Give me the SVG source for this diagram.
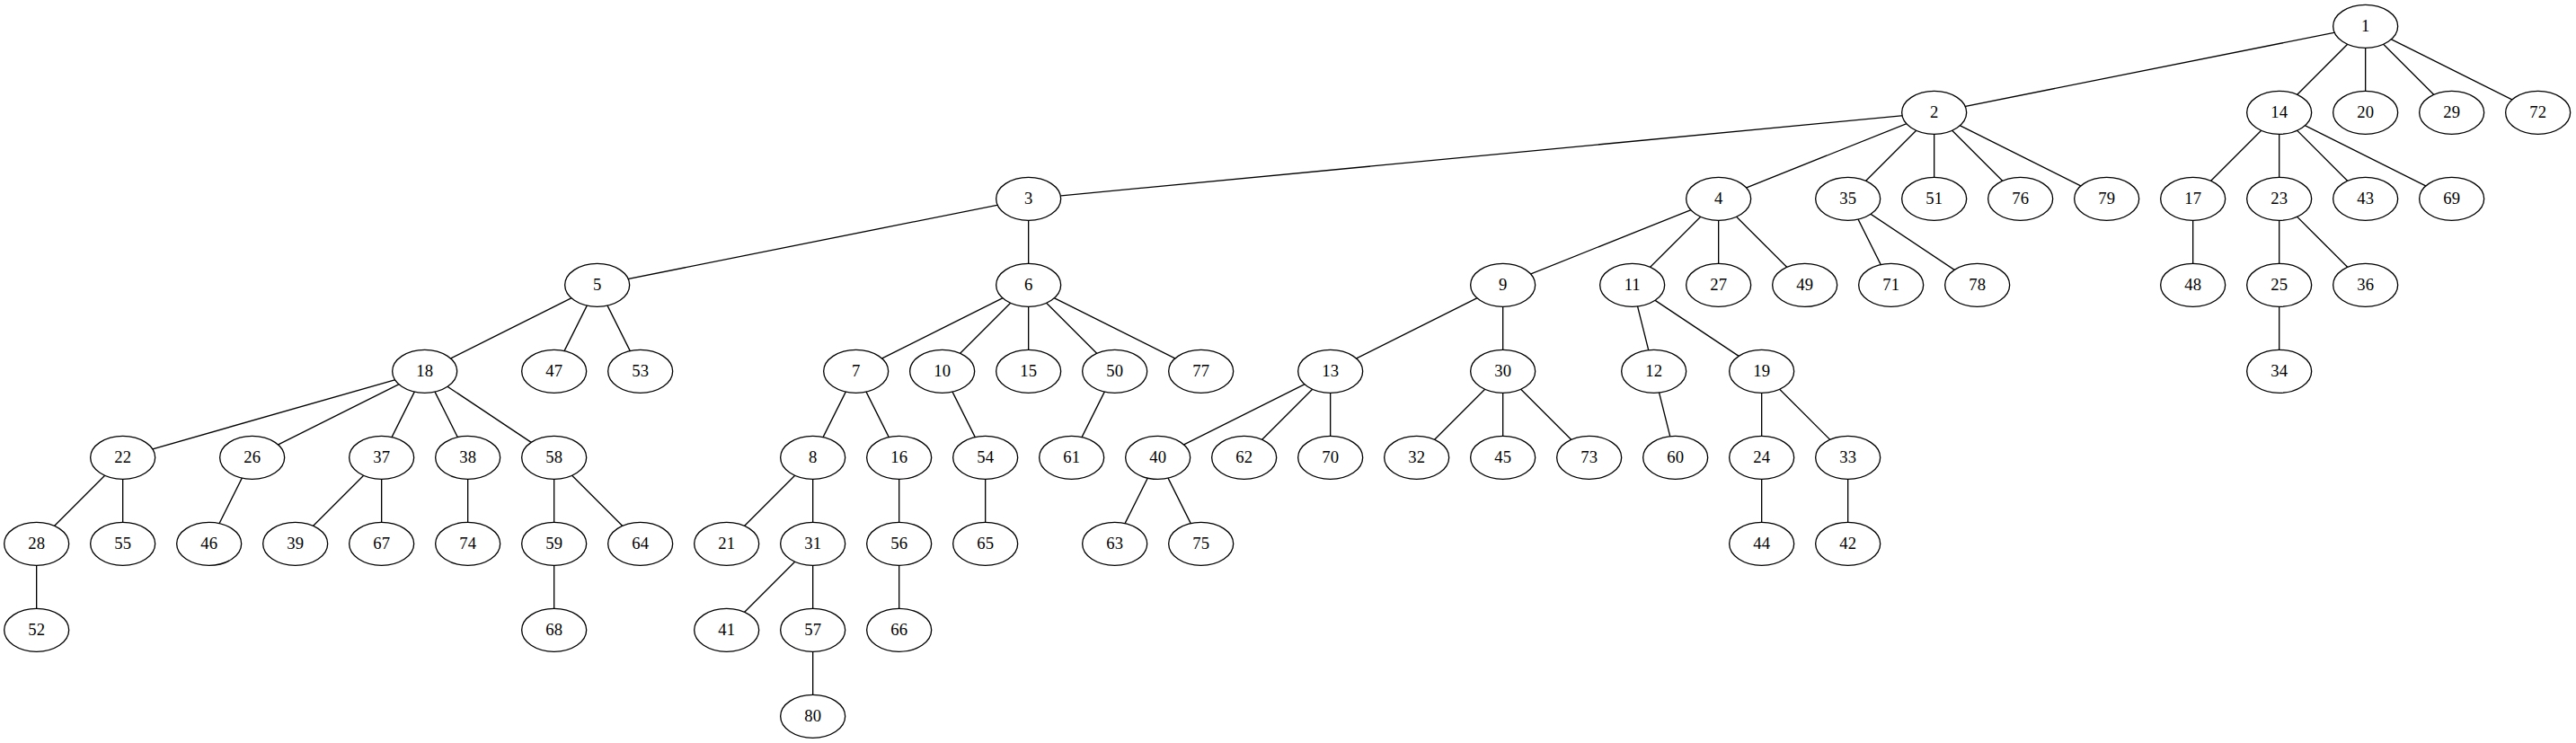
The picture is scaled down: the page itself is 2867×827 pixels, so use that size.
<svg xmlns="http://www.w3.org/2000/svg" width="2867" height="827" viewBox="0 0 2867 827">
<style>
.e line{stroke:#000;stroke-width:1.33;fill:none}
.n ellipse{fill:#fff;stroke:#000;stroke-width:1.33}
.n text{font-family:"Liberation Serif","Times New Roman",serif;font-size:18.67px;text-anchor:middle;fill:#000}
</style>
<rect width="2867" height="827" fill="#fff"/>
<g transform="translate(40.667 29.333)">
<g id="connectors" class="e">
<line x1="2592" y1="0" x2="2112" y2="96"/>
<line x1="2592" y1="0" x2="2496" y2="96"/>
<line x1="2592" y1="0" x2="2592" y2="96"/>
<line x1="2592" y1="0" x2="2688" y2="96"/>
<line x1="2592" y1="0" x2="2784" y2="96"/>
<line x1="2112" y1="96" x2="1104" y2="192"/>
<line x1="2112" y1="96" x2="1872" y2="192"/>
<line x1="2112" y1="96" x2="2016" y2="192"/>
<line x1="2112" y1="96" x2="2112" y2="192"/>
<line x1="2112" y1="96" x2="2208" y2="192"/>
<line x1="2112" y1="96" x2="2304" y2="192"/>
<line x1="2496" y1="96" x2="2400" y2="192"/>
<line x1="2496" y1="96" x2="2496" y2="192"/>
<line x1="2496" y1="96" x2="2592" y2="192"/>
<line x1="2496" y1="96" x2="2688" y2="192"/>
<line x1="1104" y1="192" x2="624" y2="288"/>
<line x1="1104" y1="192" x2="1104" y2="288"/>
<line x1="1872" y1="192" x2="1632" y2="288"/>
<line x1="1872" y1="192" x2="1776" y2="288"/>
<line x1="1872" y1="192" x2="1872" y2="288"/>
<line x1="1872" y1="192" x2="1968" y2="288"/>
<line x1="2016" y1="192" x2="2064" y2="288"/>
<line x1="2016" y1="192" x2="2160" y2="288"/>
<line x1="2400" y1="192" x2="2400" y2="288"/>
<line x1="2496" y1="192" x2="2496" y2="288"/>
<line x1="2496" y1="192" x2="2592" y2="288"/>
<line x1="624" y1="288" x2="432" y2="384"/>
<line x1="624" y1="288" x2="576" y2="384"/>
<line x1="624" y1="288" x2="672" y2="384"/>
<line x1="1104" y1="288" x2="912" y2="384"/>
<line x1="1104" y1="288" x2="1008" y2="384"/>
<line x1="1104" y1="288" x2="1104" y2="384"/>
<line x1="1104" y1="288" x2="1200" y2="384"/>
<line x1="1104" y1="288" x2="1296" y2="384"/>
<line x1="1632" y1="288" x2="1440" y2="384"/>
<line x1="1632" y1="288" x2="1632" y2="384"/>
<line x1="1776" y1="288" x2="1800" y2="384"/>
<line x1="1776" y1="288" x2="1920" y2="384"/>
<line x1="2496" y1="288" x2="2496" y2="384"/>
<line x1="432" y1="384" x2="96" y2="480"/>
<line x1="432" y1="384" x2="240" y2="480"/>
<line x1="432" y1="384" x2="384" y2="480"/>
<line x1="432" y1="384" x2="480" y2="480"/>
<line x1="432" y1="384" x2="576" y2="480"/>
<line x1="912" y1="384" x2="864" y2="480"/>
<line x1="912" y1="384" x2="960" y2="480"/>
<line x1="1008" y1="384" x2="1056" y2="480"/>
<line x1="1200" y1="384" x2="1152" y2="480"/>
<line x1="1440" y1="384" x2="1248" y2="480"/>
<line x1="1440" y1="384" x2="1344" y2="480"/>
<line x1="1440" y1="384" x2="1440" y2="480"/>
<line x1="1632" y1="384" x2="1536" y2="480"/>
<line x1="1632" y1="384" x2="1632" y2="480"/>
<line x1="1632" y1="384" x2="1728" y2="480"/>
<line x1="1800" y1="384" x2="1824" y2="480"/>
<line x1="1920" y1="384" x2="1920" y2="480"/>
<line x1="1920" y1="384" x2="2016" y2="480"/>
<line x1="96" y1="480" x2="0" y2="576"/>
<line x1="96" y1="480" x2="96" y2="576"/>
<line x1="240" y1="480" x2="192" y2="576"/>
<line x1="384" y1="480" x2="288" y2="576"/>
<line x1="384" y1="480" x2="384" y2="576"/>
<line x1="480" y1="480" x2="480" y2="576"/>
<line x1="576" y1="480" x2="576" y2="576"/>
<line x1="576" y1="480" x2="672" y2="576"/>
<line x1="864" y1="480" x2="768" y2="576"/>
<line x1="864" y1="480" x2="864" y2="576"/>
<line x1="960" y1="480" x2="960" y2="576"/>
<line x1="1056" y1="480" x2="1056" y2="576"/>
<line x1="1248" y1="480" x2="1200" y2="576"/>
<line x1="1248" y1="480" x2="1296" y2="576"/>
<line x1="1920" y1="480" x2="1920" y2="576"/>
<line x1="2016" y1="480" x2="2016" y2="576"/>
<line x1="0" y1="576" x2="0" y2="672"/>
<line x1="576" y1="576" x2="576" y2="672"/>
<line x1="864" y1="576" x2="768" y2="672"/>
<line x1="864" y1="576" x2="864" y2="672"/>
<line x1="960" y1="576" x2="960" y2="672"/>
<line x1="864" y1="672" x2="864" y2="768"/>
</g>
<g id="nodes" class="n">
<g id="n1"><ellipse cx="2592" cy="0" rx="36" ry="24"/><text x="2592" y="6">1</text></g>
<g id="n2"><ellipse cx="2112" cy="96" rx="36" ry="24"/><text x="2112" y="102">2</text></g>
<g id="n14"><ellipse cx="2496" cy="96" rx="36" ry="24"/><text x="2496" y="102">14</text></g>
<g id="n20"><ellipse cx="2592" cy="96" rx="36" ry="24"/><text x="2592" y="102">20</text></g>
<g id="n29"><ellipse cx="2688" cy="96" rx="36" ry="24"/><text x="2688" y="102">29</text></g>
<g id="n72"><ellipse cx="2784" cy="96" rx="36" ry="24"/><text x="2784" y="102">72</text></g>
<g id="n3"><ellipse cx="1104" cy="192" rx="36" ry="24"/><text x="1104" y="198">3</text></g>
<g id="n4"><ellipse cx="1872" cy="192" rx="36" ry="24"/><text x="1872" y="198">4</text></g>
<g id="n35"><ellipse cx="2016" cy="192" rx="36" ry="24"/><text x="2016" y="198">35</text></g>
<g id="n51"><ellipse cx="2112" cy="192" rx="36" ry="24"/><text x="2112" y="198">51</text></g>
<g id="n76"><ellipse cx="2208" cy="192" rx="36" ry="24"/><text x="2208" y="198">76</text></g>
<g id="n79"><ellipse cx="2304" cy="192" rx="36" ry="24"/><text x="2304" y="198">79</text></g>
<g id="n17"><ellipse cx="2400" cy="192" rx="36" ry="24"/><text x="2400" y="198">17</text></g>
<g id="n23"><ellipse cx="2496" cy="192" rx="36" ry="24"/><text x="2496" y="198">23</text></g>
<g id="n43"><ellipse cx="2592" cy="192" rx="36" ry="24"/><text x="2592" y="198">43</text></g>
<g id="n69"><ellipse cx="2688" cy="192" rx="36" ry="24"/><text x="2688" y="198">69</text></g>
<g id="n5"><ellipse cx="624" cy="288" rx="36" ry="24"/><text x="624" y="294">5</text></g>
<g id="n6"><ellipse cx="1104" cy="288" rx="36" ry="24"/><text x="1104" y="294">6</text></g>
<g id="n9"><ellipse cx="1632" cy="288" rx="36" ry="24"/><text x="1632" y="294">9</text></g>
<g id="n11"><ellipse cx="1776" cy="288" rx="36" ry="24"/><text x="1776" y="294">11</text></g>
<g id="n27"><ellipse cx="1872" cy="288" rx="36" ry="24"/><text x="1872" y="294">27</text></g>
<g id="n49"><ellipse cx="1968" cy="288" rx="36" ry="24"/><text x="1968" y="294">49</text></g>
<g id="n71"><ellipse cx="2064" cy="288" rx="36" ry="24"/><text x="2064" y="294">71</text></g>
<g id="n78"><ellipse cx="2160" cy="288" rx="36" ry="24"/><text x="2160" y="294">78</text></g>
<g id="n48"><ellipse cx="2400" cy="288" rx="36" ry="24"/><text x="2400" y="294">48</text></g>
<g id="n25"><ellipse cx="2496" cy="288" rx="36" ry="24"/><text x="2496" y="294">25</text></g>
<g id="n36"><ellipse cx="2592" cy="288" rx="36" ry="24"/><text x="2592" y="294">36</text></g>
<g id="n18"><ellipse cx="432" cy="384" rx="36" ry="24"/><text x="432" y="390">18</text></g>
<g id="n47"><ellipse cx="576" cy="384" rx="36" ry="24"/><text x="576" y="390">47</text></g>
<g id="n53"><ellipse cx="672" cy="384" rx="36" ry="24"/><text x="672" y="390">53</text></g>
<g id="n7"><ellipse cx="912" cy="384" rx="36" ry="24"/><text x="912" y="390">7</text></g>
<g id="n10"><ellipse cx="1008" cy="384" rx="36" ry="24"/><text x="1008" y="390">10</text></g>
<g id="n15"><ellipse cx="1104" cy="384" rx="36" ry="24"/><text x="1104" y="390">15</text></g>
<g id="n50"><ellipse cx="1200" cy="384" rx="36" ry="24"/><text x="1200" y="390">50</text></g>
<g id="n77"><ellipse cx="1296" cy="384" rx="36" ry="24"/><text x="1296" y="390">77</text></g>
<g id="n13"><ellipse cx="1440" cy="384" rx="36" ry="24"/><text x="1440" y="390">13</text></g>
<g id="n30"><ellipse cx="1632" cy="384" rx="36" ry="24"/><text x="1632" y="390">30</text></g>
<g id="n12"><ellipse cx="1800" cy="384" rx="36" ry="24"/><text x="1800" y="390">12</text></g>
<g id="n19"><ellipse cx="1920" cy="384" rx="36" ry="24"/><text x="1920" y="390">19</text></g>
<g id="n34"><ellipse cx="2496" cy="384" rx="36" ry="24"/><text x="2496" y="390">34</text></g>
<g id="n22"><ellipse cx="96" cy="480" rx="36" ry="24"/><text x="96" y="486">22</text></g>
<g id="n26"><ellipse cx="240" cy="480" rx="36" ry="24"/><text x="240" y="486">26</text></g>
<g id="n37"><ellipse cx="384" cy="480" rx="36" ry="24"/><text x="384" y="486">37</text></g>
<g id="n38"><ellipse cx="480" cy="480" rx="36" ry="24"/><text x="480" y="486">38</text></g>
<g id="n58"><ellipse cx="576" cy="480" rx="36" ry="24"/><text x="576" y="486">58</text></g>
<g id="n8"><ellipse cx="864" cy="480" rx="36" ry="24"/><text x="864" y="486">8</text></g>
<g id="n16"><ellipse cx="960" cy="480" rx="36" ry="24"/><text x="960" y="486">16</text></g>
<g id="n54"><ellipse cx="1056" cy="480" rx="36" ry="24"/><text x="1056" y="486">54</text></g>
<g id="n61"><ellipse cx="1152" cy="480" rx="36" ry="24"/><text x="1152" y="486">61</text></g>
<g id="n40"><ellipse cx="1248" cy="480" rx="36" ry="24"/><text x="1248" y="486">40</text></g>
<g id="n62"><ellipse cx="1344" cy="480" rx="36" ry="24"/><text x="1344" y="486">62</text></g>
<g id="n70"><ellipse cx="1440" cy="480" rx="36" ry="24"/><text x="1440" y="486">70</text></g>
<g id="n32"><ellipse cx="1536" cy="480" rx="36" ry="24"/><text x="1536" y="486">32</text></g>
<g id="n45"><ellipse cx="1632" cy="480" rx="36" ry="24"/><text x="1632" y="486">45</text></g>
<g id="n73"><ellipse cx="1728" cy="480" rx="36" ry="24"/><text x="1728" y="486">73</text></g>
<g id="n60"><ellipse cx="1824" cy="480" rx="36" ry="24"/><text x="1824" y="486">60</text></g>
<g id="n24"><ellipse cx="1920" cy="480" rx="36" ry="24"/><text x="1920" y="486">24</text></g>
<g id="n33"><ellipse cx="2016" cy="480" rx="36" ry="24"/><text x="2016" y="486">33</text></g>
<g id="n28"><ellipse cx="0" cy="576" rx="36" ry="24"/><text x="0" y="582">28</text></g>
<g id="n55"><ellipse cx="96" cy="576" rx="36" ry="24"/><text x="96" y="582">55</text></g>
<g id="n46"><ellipse cx="192" cy="576" rx="36" ry="24"/><text x="192" y="582">46</text></g>
<g id="n39"><ellipse cx="288" cy="576" rx="36" ry="24"/><text x="288" y="582">39</text></g>
<g id="n67"><ellipse cx="384" cy="576" rx="36" ry="24"/><text x="384" y="582">67</text></g>
<g id="n74"><ellipse cx="480" cy="576" rx="36" ry="24"/><text x="480" y="582">74</text></g>
<g id="n59"><ellipse cx="576" cy="576" rx="36" ry="24"/><text x="576" y="582">59</text></g>
<g id="n64"><ellipse cx="672" cy="576" rx="36" ry="24"/><text x="672" y="582">64</text></g>
<g id="n21"><ellipse cx="768" cy="576" rx="36" ry="24"/><text x="768" y="582">21</text></g>
<g id="n31"><ellipse cx="864" cy="576" rx="36" ry="24"/><text x="864" y="582">31</text></g>
<g id="n56"><ellipse cx="960" cy="576" rx="36" ry="24"/><text x="960" y="582">56</text></g>
<g id="n65"><ellipse cx="1056" cy="576" rx="36" ry="24"/><text x="1056" y="582">65</text></g>
<g id="n63"><ellipse cx="1200" cy="576" rx="36" ry="24"/><text x="1200" y="582">63</text></g>
<g id="n75"><ellipse cx="1296" cy="576" rx="36" ry="24"/><text x="1296" y="582">75</text></g>
<g id="n44"><ellipse cx="1920" cy="576" rx="36" ry="24"/><text x="1920" y="582">44</text></g>
<g id="n42"><ellipse cx="2016" cy="576" rx="36" ry="24"/><text x="2016" y="582">42</text></g>
<g id="n52"><ellipse cx="0" cy="672" rx="36" ry="24"/><text x="0" y="678">52</text></g>
<g id="n68"><ellipse cx="576" cy="672" rx="36" ry="24"/><text x="576" y="678">68</text></g>
<g id="n41"><ellipse cx="768" cy="672" rx="36" ry="24"/><text x="768" y="678">41</text></g>
<g id="n57"><ellipse cx="864" cy="672" rx="36" ry="24"/><text x="864" y="678">57</text></g>
<g id="n66"><ellipse cx="960" cy="672" rx="36" ry="24"/><text x="960" y="678">66</text></g>
<g id="n80"><ellipse cx="864" cy="768" rx="36" ry="24"/><text x="864" y="774">80</text></g>
</g>
</g>
</svg>
